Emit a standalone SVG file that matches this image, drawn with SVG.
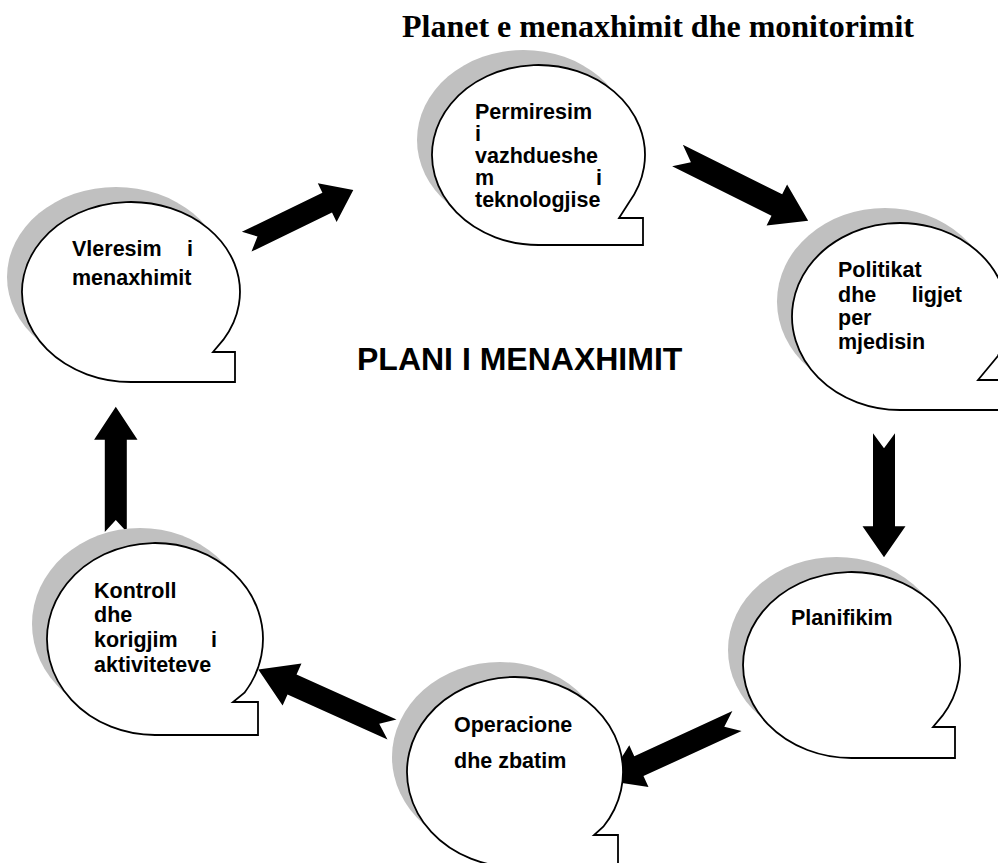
<svg xmlns="http://www.w3.org/2000/svg" width="998" height="863" viewBox="0 0 998 863">
<style>
.shadow{fill:#c0c0c0}
.bub{fill:#fff;stroke:#000;stroke-width:1.8}
.t{font-family:"Liberation Sans",Arial,sans-serif;font-weight:bold;font-size:21.5px;fill:#000}
.arr{fill:#000}
</style>
<defs>
<clipPath id="clip1"><rect x="400" y="60" width="250" height="152"/></clipPath>
</defs>
<rect width="998" height="863" fill="#fff"/>
<text x="402" y="37" style="font-family:'Liberation Serif','Times New Roman',serif;font-weight:bold;font-size:32px">Planet e menaxhimit dhe monitorimit</text>
<text x="357" y="370" style="font-family:'Liberation Sans',Arial,sans-serif;font-weight:bold;font-size:32px">PLANI I MENAXHIMIT</text>
<g id="connectors">
<polygon class="arr" transform="translate(246.7,241.7) rotate(-25.9)" points="0,-11 89.5,-11 89.5,-21.5 118.5,0 89.5,21.5 89.5,11 0,11 12,0"/>
<polygon class="arr" transform="translate(677.5,155.5) rotate(26.5)" points="0,-12 111,-12 111,-23 146,0 111,23 111,12 0,12 15,0"/>
<polygon class="arr" transform="translate(884,433.3) rotate(90)" points="0,-11 93,-11 93,-21.5 124,0 93,21.5 93,11 0,11 15,0"/>
<polygon class="arr" transform="translate(737,721) rotate(155.3)" points="0,-11 108,-11 108,-23 143,0 108,23 108,11 0,11 14,0"/>
<polygon class="arr" transform="translate(392,729.5) rotate(-155.8)" points="0,-11 109.6,-11 109.6,-23 146.6,0 109.6,23 109.6,11 0,11 14,0"/>
<polygon class="arr" transform="translate(115.8,532) rotate(-90)" points="0,-11 92.3,-11 92.3,-21.7 125.3,0 92.3,21.7 92.3,11 0,11 12,0"/>
</g>
<g id="permiresim">
<ellipse class="shadow" cx="523.5" cy="140" rx="106.5" ry="90"/>
<path class="bub" d="M538.5,245 A106.5,90 0 1 1 628.8,202.7 L619,218 L643,218 L643,245 Z"/>
<g clip-path="url(#clip1)">
<text class="t" x="475" y="119">Permiresim</text>
<text class="t" x="475" y="141">i</text>
<text class="t" x="475" y="163">vazhdueshe</text>
<text class="t" x="475" y="185">m</text>
<text class="t" x="602" y="185" text-anchor="end">i</text>
<text class="t" x="475" y="207">teknologjise</text>
</g>
</g>
<g id="vleresim">
<ellipse class="shadow" cx="116" cy="277" rx="109" ry="90"/>
<path class="bub" d="M131,382 A109,90 0 1 1 223.4,339.7 L213,352 L235,352 L235,382 Z"/>
<text class="t" x="72" y="256">Vleresim</text>
<text class="t" x="193" y="256" text-anchor="end">i</text>
<text class="t" x="72" y="285">menaxhimit</text>
</g>
<g id="politikat">
<ellipse class="shadow" cx="885" cy="301.5" rx="108" ry="93.5"/>
<path class="bub" d="M900,410 A108,93.5 0 1 1 997.9,356 L978,380 L1010,380 L1010,410 Z"/>
<text class="t" x="838" y="277">Politikat</text>
<text class="t" x="838" y="302">dhe</text>
<text class="t" x="962" y="302" text-anchor="end">ligjet</text>
<text class="t" x="838" y="325">per</text>
<text class="t" x="838" y="349">mjedisin</text>
</g>
<g id="planifikim">
<ellipse class="shadow" cx="836.5" cy="650" rx="108.5" ry="93"/>
<path class="bub" d="M851.5,758 A108.5,93 0 1 1 942.5,715.7 L933,727 L955,727 L955,758 Z"/>
<text class="t" x="791" y="625">Planifikim</text>
</g>
<g id="operacione">
<ellipse class="shadow" cx="500" cy="757" rx="108" ry="95"/>
<path class="bub" d="M515,867 A108,95 0 1 1 603.3,826.7 L594,835 L618,835 L618,867 Z"/>
<text class="t" x="454" y="732">Operacione</text>
<text class="t" x="454" y="768">dhe zbatim</text>
</g>
<g id="kontroll">
<ellipse class="shadow" cx="140" cy="624" rx="108" ry="96"/>
<path class="bub" d="M155,735 A108,96 0 1 1 244.5,692.7 L233,702 L258,702 L258,735 Z"/>
<text class="t" x="94" y="598">Kontroll</text>
<text class="t" x="94" y="622">dhe</text>
<text class="t" x="94" y="647">korigjim</text>
<text class="t" x="217" y="647" text-anchor="end">i</text>
<text class="t" x="94" y="672">aktiviteteve</text>
</g>
</svg>
